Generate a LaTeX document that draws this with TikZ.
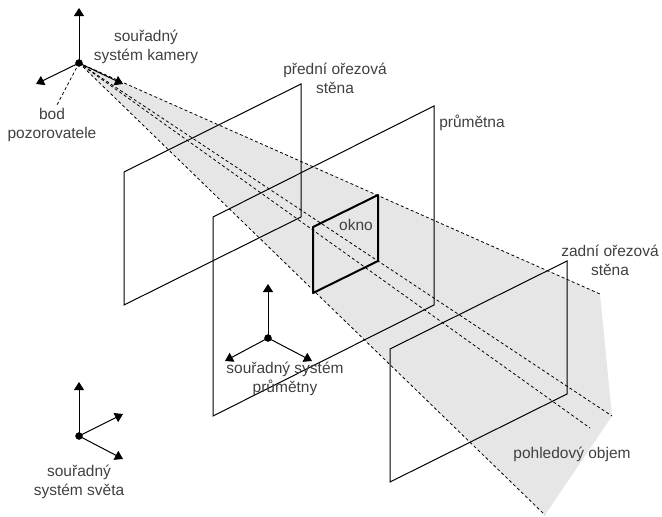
\documentclass[tikz,border=0pt]{standalone}
\usepackage{fontspec}
\setmainfont{Liberation Sans}
\usetikzlibrary{arrows.meta,positioning}
\definecolor{volgray}{HTML}{E6E6E6}
\definecolor{labelgray}{HTML}{404040}
\begin{document}
\begin{tikzpicture}[
  x=1pt, y=-1pt,
  dot/.style={draw, circle, fill=black, inner sep=0pt, minimum size=7pt},
  axis/.style={draw, line width=1pt, -{Triangle[width=10pt,length=8pt]}, shorten <=-1pt},
  plane/.style={draw, line width=1pt, line join=miter},
  window/.style={draw, line width=2pt, line join=round},
  ray/.style={draw, line width=0.8pt, dash pattern=on 3pt off 2.5pt},
  label/.style={align=center, inner sep=0pt, text=labelgray, font=\fontsize{15.5}{19}\selectfont}
]
\useasboundingbox (0,0) rectangle (662,517);

% viewing volume
\coordinate (volA) at (600,294);
\coordinate (volB) at (612,416);
\coordinate (volC) at (590,428);
\coordinate (volD) at (545,515);
\coordinate (eyeC) at (79,63);
\fill[volgray] (eyeC) -- (volA) -- (volB) -- (volD) -- cycle;
\draw[ray] (eyeC) -- (volA);
\draw[ray] (eyeC) -- (volB);
\draw[ray] (eyeC) -- (volC);
\draw[ray] (eyeC) -- (volD);

% clipping walls and projection plane
\coordinate (frontA) at (124,172);
\coordinate (frontB) at (301,84);
\coordinate (frontC) at (301,217);
\coordinate (frontD) at (124,305);
\draw[plane] (frontA) -- (frontB) -- (frontC) -- (frontD) -- cycle;

\coordinate (projA) at (213,217);
\coordinate (projB) at (434,106);
\coordinate (projC) at (434,305);
\coordinate (projD) at (213,416);
\draw[plane] (projA) -- (projB) -- (projC) -- (projD) -- cycle;

\coordinate (backA) at (390,349);
\coordinate (backB) at (567,261);
\coordinate (backC) at (567,394);
\coordinate (backD) at (390,482);
\draw[plane] (backA) -- (backB) -- (backC) -- (backD) -- cycle;

\coordinate (winA) at (313,227);
\coordinate (winB) at (378,195);
\coordinate (winC) at (378,261);
\coordinate (winD) at (313,293);
\draw[window] (winA) -- (winB) -- (winC) -- (winD) -- cycle;

% camera axes
\node[dot] (eye) at (eyeC) {};
\coordinate (camUp) at (79,8);
\coordinate (camLeft) at (36,84);
\coordinate (camRight) at (123,84);
\draw[axis] (eye.center) -- (camUp);
\draw[axis] (eye.center) -- (camLeft);
\draw[axis] (eye.center) -- (camRight);

% projection plane axes
\node[dot] (proj) at (268,338) {};
\coordinate (projUp) at (268,284);
\coordinate (projLeft) at (225,361);
\coordinate (projRight) at (312,361);
\draw[axis] (proj.center) -- (projUp);
\draw[axis] (proj.center) -- (projLeft);
\draw[axis] (proj.center) -- (projRight);

% world axes
\node[dot] (world) at (79,436) {};
\coordinate (worldUp) at (79,382);
\coordinate (worldA) at (123,414);
\coordinate (worldB) at (123,459);
\draw[axis] (world.center) -- (worldUp);
\draw[axis] (world.center) -- (worldA);
\draw[axis] (world.center) -- (worldB);

% labels
\node[label] (camlabel) at (146,47) {souřadný\\systém kamery};
\node[label] (bod) at (52,125) {bod\\pozorovatele};
\coordinate (bodEnd) at (57,105);
\draw[ray] (eye.center) -- (bodEnd);
\node[label] (frontlabel) at (335,78) {přední ořezová\\stěna};
\node[label] (projlabel) at (472,123) {průmětna};
\node[label] (okno) at (356,225) {okno};
\node[label] (projaxes) at (285,379) {souřadný systém\\průmětny};
\node[label] (backlabel) at (610,260) {zadní ořezová\\stěna};
\node[label] (vollabel) at (572,454) {pohledový objem};
\node[label] (worldlabel) at (79,482) {souřadný\\systém světa};
\end{tikzpicture}
\end{document}
